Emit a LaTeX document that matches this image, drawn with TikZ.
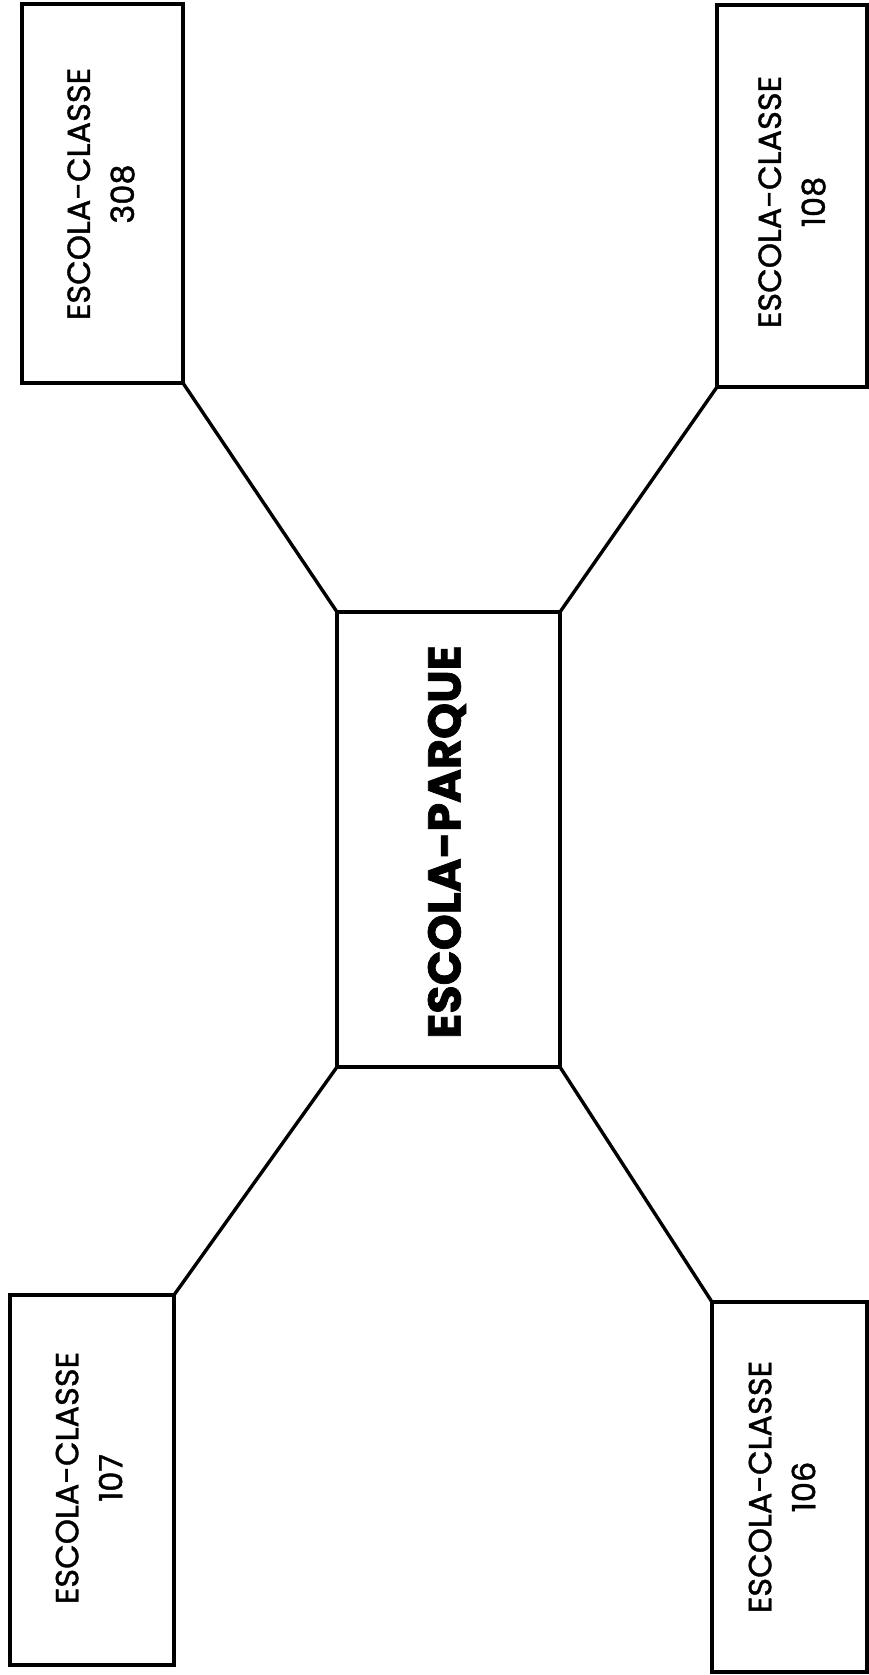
\documentclass[tikz,border=0pt]{standalone}
\usepackage{fontspec}
\setmainfont{Poppins}
\newfontfamily\medfont[FakeBold=1.2]{Poppins}
\newfontfamily\heavyfont[FakeBold=1.5]{Poppins Bold}
\begin{document}
\begin{tikzpicture}[x=1pt,y=-1pt,
  box/.style={draw, line width=3.4pt, outer sep=0pt, inner sep=0pt},
  small/.style={rotate=90, align=center, font=\medfont\fontsize{32}{44}\selectfont},
  big/.style={rotate=90, font=\heavyfont\fontsize{46}{56}\selectfont},
  link/.style={line width=3.4pt}]
\useasboundingbox (0,0) rectangle (869,1675);
\node[box, minimum width=161pt, minimum height=379pt] (b308) at (102.5,193.5) {};
\node[box, minimum width=150pt, minimum height=382pt] (b108) at (792,196) {};
\node[box, minimum width=223pt, minimum height=455pt] (cp) at (448.5,839.5) {};
\node[box, minimum width=164pt, minimum height=370pt] (b107) at (92,1480) {};
\node[box, minimum width=155pt, minimum height=370pt] (b106) at (789.5,1487) {};
\node[small] (t308) at (101,194) {ESCOLA-CLASSE\\308};
\node[small] (t108) at (792,202) {ESCOLA-CLASSE\\108};
\node[small] (t107) at (89,1478) {ESCOLA-CLASSE\\107};
\node[small] (t106) at (782,1487) {ESCOLA-CLASSE\\106};
\node[big] (tcp) at (447,842) {ESCOLA-PARQUE};
\draw[link] (b308.south east) -- (cp.north west);
\draw[link] (b108.south west) -- (cp.north east);
\draw[link] (b107.north east) -- (cp.south west);
\draw[link] (b106.north west) -- (cp.south east);
\end{tikzpicture}
\end{document}
